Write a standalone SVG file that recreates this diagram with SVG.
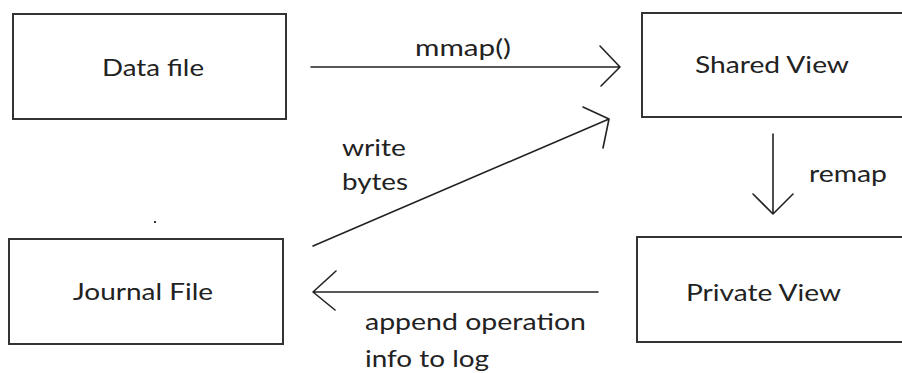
<svg xmlns="http://www.w3.org/2000/svg" width="902" height="373" viewBox="0 0 902 373">
<style>
.box{fill:#fff;stroke:#333;stroke-width:2}
.t{font-family:Lato,"Open Sans","Liberation Sans",sans-serif;font-size:24px;fill:#222}
.ln{fill:none;stroke:#222;stroke-width:1.6;stroke-linecap:round;stroke-linejoin:round}
</style>
<rect width="902" height="373" fill="#fff"/>
<g id="data-file">
<rect class="box" x="13" y="14" width="273" height="105"/>
<text class="t" x="102" y="76" textLength="102" lengthAdjust="spacingAndGlyphs">Data file</text>
</g>
<g id="shared-view">
<rect class="box" x="642" y="13" width="270" height="104"/>
<text class="t" x="695" y="73" textLength="154" lengthAdjust="spacingAndGlyphs">Shared View</text>
</g>
<g id="journal-file">
<rect class="box" x="9" y="239" width="274" height="105"/>
<text class="t" x="73" y="300" textLength="140" lengthAdjust="spacingAndGlyphs">Journal File</text>
</g>
<g id="private-view">
<rect class="box" x="637" y="237" width="275" height="105"/>
<text class="t" x="686" y="301" textLength="155" lengthAdjust="spacingAndGlyphs">Private View</text>
</g>
<g id="connectors">
<path class="ln" d="M311 67 H620 M600 46 L620 67 L601 86"/>
<path class="ln" d="M773 134 V214 M753 194 L773 214 L793 194"/>
<path class="ln" d="M598 292 H313 M336 271 L313 292 L335 310"/>
<path class="ln" d="M313 246 L609 119 M583 107 L609 119 L603 148"/>
<text class="t" x="415" y="56" textLength="96" lengthAdjust="spacingAndGlyphs">mmap()</text>
<text class="t" x="809" y="182" textLength="78" lengthAdjust="spacingAndGlyphs">remap</text>
<text class="t" x="342" y="156" textLength="64" lengthAdjust="spacingAndGlyphs">write</text>
<text class="t" x="342" y="190" textLength="66" lengthAdjust="spacingAndGlyphs">bytes</text>
<text class="t" x="365" y="330" textLength="221" lengthAdjust="spacingAndGlyphs">append operation</text>
<text class="t" x="365" y="367" textLength="124" lengthAdjust="spacingAndGlyphs">info to log</text>
</g>
<rect x="154" y="221" width="2" height="2" fill="#333"/>
</svg>
